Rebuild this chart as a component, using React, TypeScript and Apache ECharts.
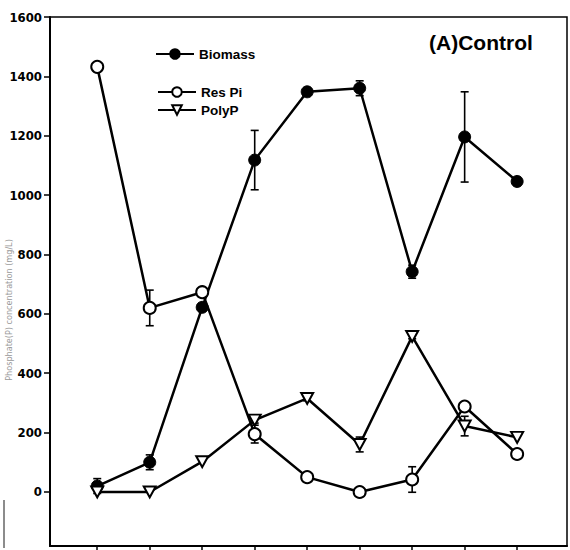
import React, { useEffect, useRef } from "react";
import * as echarts from "echarts";

const xValues = [1, 2, 3, 4, 5, 6, 7, 8, 9];
const biomass = [20, 100, 622, 1118, 1348, 1360, 742, 1196, 1046];
const biomassErr = [25, 25, 12, 100, 12, 25, 22, 152, 0];
const resPi = [1432, 620, 673, 195, 50, 0, 42, 288, 128];
const resPiErr = [0, 60, 8, 30, 0, 0, 43, 10, 0];
const polyP = [0, 0, 102, 242, 315, 160, 524, 222, 184];
const polyPErr = [0, 0, 0, 10, 8, 25, 8, 33, 0];
const yTicks = [0, 200, 400, 600, 800, 1000, 1200, 1400, 1600];

const FONT = "'Liberation Sans Narrow', 'DejaVu Sans Condensed', 'Liberation Sans', Arial, sans-serif";

function pairs(vals: number[]) {
  return xValues.map((x, i) => [x, vals[i]]);
}
function errData(vals: number[], errs: number[]) {
  return xValues.map((x, i) => [x, vals[i], errs[i]]);
}

function errorSeries(name: string, vals: number[], errs: number[]) {
  return {
    type: "custom",
    name: name + "-err",
    z: 1,
    silent: true,
    data: errData(vals, errs),
    encode: { x: 0, y: 1 },
    renderItem: (params: any, api: any) => {
      const x = api.value(0);
      const v = api.value(1);
      const e = api.value(2);
      if (!e) return null;
      const top = api.coord([x, v + e]);
      const bot = api.coord([x, v - e]);
      const cap = 4;
      const style = { stroke: "#000", lineWidth: 1.6 };
      return {
        type: "group",
        children: [
          { type: "line", shape: { x1: top[0], y1: top[1], x2: bot[0], y2: bot[1] }, style },
          { type: "line", shape: { x1: top[0] - cap, y1: top[1], x2: top[0] + cap, y2: top[1] }, style },
          { type: "line", shape: { x1: bot[0] - cap, y1: bot[1], x2: bot[0] + cap, y2: bot[1] }, style },
        ],
      };
    },
  };
}

export default function App() {
  const ref = useRef<HTMLDivElement>(null);
  useEffect(() => {
    if (!ref.current) return;
    const chart = echarts.init(ref.current, null, { renderer: "svg" });
    const legendText = { color: "#000", fontWeight: "bold", fontSize: 13.5, fontFamily: "'Liberation Sans', Arial, sans-serif" };
    const legendCommon = {
      orient: "horizontal",
      itemWidth: 38,
      itemHeight: 12,
      itemGap: 6,
      textStyle: legendText,
      selectedMode: false,
    };
    chart.setOption({
      animation: false,
      backgroundColor: "#fff",
      grid: {
        left: 50,
        right: 3,
        top: 17,
        bottom: 4,
        show: true,
        borderColor: "#000",
        borderWidth: 1.5,
        containLabel: false,
      },
      legend: [
        { ...legendCommon, data: ["Biomass"], left: 150, top: 42 },
        { ...legendCommon, data: ["Res Pi"], left: 152, top: 80 },
        { ...legendCommon, data: ["PolyP"], left: 152, top: 98 },
      ],
      xAxis: {
        type: "value",
        min: 0.1,
        max: 9.95,
        splitLine: { show: false },
        axisLine: { show: true, onZero: false, lineStyle: { color: "#000", width: 2 } },
        axisTick: { show: true, inside: false, length: 8, customValues: xValues, lineStyle: { color: "#000", width: 1.5 } },
        axisLabel: { show: false },
      },
      yAxis: {
        type: "value",
        min: -182,
        max: 1600,
        splitLine: { show: false },
        axisLine: { show: true, onZero: false, lineStyle: { color: "#000", width: 2 } },
        axisTick: { show: true, inside: false, length: 6, customValues: yTicks, lineStyle: { color: "#000", width: 1.5 } },
        axisLabel: {
          show: true,
          customValues: yTicks,
          formatter: (v: number) => String(v),
          margin: 8,
          color: "#000",
          fontWeight: "bold",
          fontSize: 13,
          fontFamily: FONT,
        },
      },
      graphic: [
        {
          type: "text",
          left: 429,
          top: 32,
          style: {
            text: "(A)Control",
            fill: "#000",
            fontSize: 21,
            fontWeight: "bold",
            fontFamily: "'Liberation Sans', Arial, sans-serif",
          },
        },
        {
          type: "text",
          x: 9,
          y: 310,
          rotation: Math.PI / 2,
          style: {
            text: "Phosphate(P) concentration (mg/L)",
            fill: "#999",
            fontSize: 9,
            fontFamily: FONT,
            align: "center",
            verticalAlign: "middle",
          },
        },
        {
          type: "line",
          shape: { x1: 4, y1: 500, x2: 4, y2: 548 },
          style: { stroke: "#666", lineWidth: 1.5 },
        },
      ],
      series: [
        errorSeries("Biomass", biomass, biomassErr),
        errorSeries("Res Pi", resPi, resPiErr),
        errorSeries("PolyP", polyP, polyPErr),
        {
          type: "line",
          name: "Biomass",
          z: 3,
          data: pairs(biomass),
          symbol: "circle",
          symbolSize: 12,
          lineStyle: { color: "#000", width: 2.5 },
          itemStyle: { color: "#000", borderColor: "#000", borderWidth: 1 },
        },
        {
          type: "line",
          name: "Res Pi",
          z: 4,
          data: pairs(resPi),
          symbol: "circle",
          symbolSize: 12,
          lineStyle: { color: "#000", width: 2.5 },
          itemStyle: { color: "#fff", borderColor: "#000", borderWidth: 2 },
        },
        {
          type: "line",
          name: "PolyP",
          z: 5,
          data: pairs(polyP),
          symbol: "path://M0,0L12,0L6,11Z",
          symbolSize: [12, 11],
          lineStyle: { color: "#000", width: 2.5 },
          itemStyle: { color: "#fff", borderColor: "#000", borderWidth: 2 },
        },
      ],
    });
    return () => chart.dispose();
  }, []);
  return (
    <div
      ref={ref}
      style={{ position: "fixed", left: 0, top: 0, width: 570, height: 550, background: "#fff" }}
    />
  );
}
